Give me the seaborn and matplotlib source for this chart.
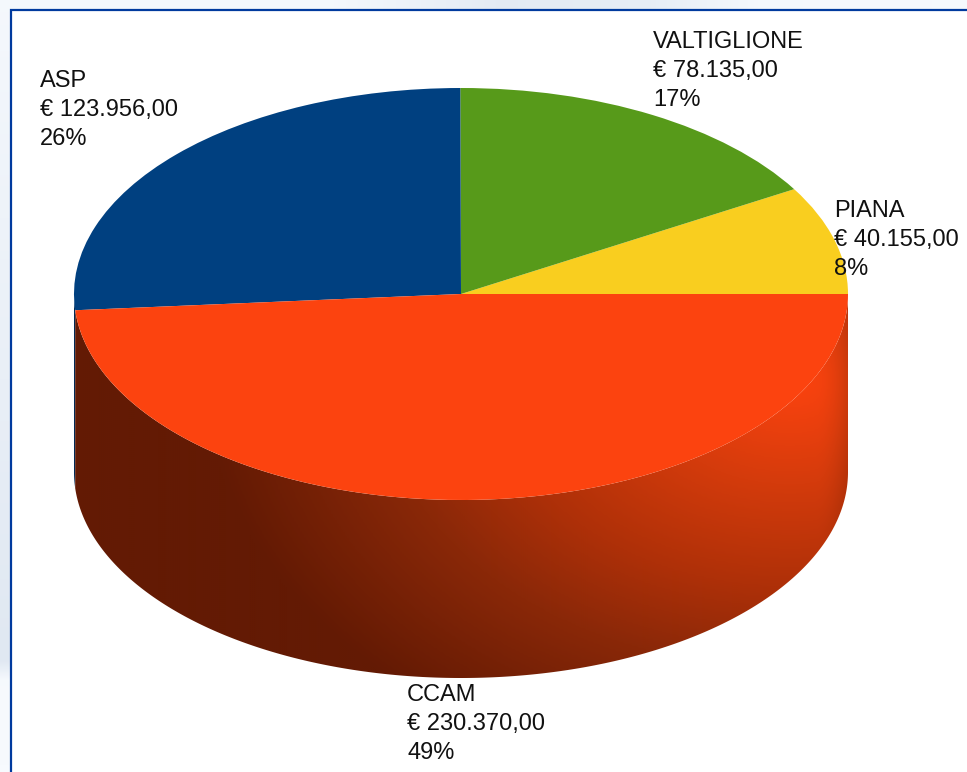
import numpy as np
import matplotlib
matplotlib.use("Agg")
import matplotlib.pyplot as plt
from matplotlib.colors import LinearSegmentedColormap, to_rgb
from matplotlib.patches import Polygon, Rectangle
import seaborn as sns

categories = ["PIANA", "VALTIGLIONE", "ASP", "CCAM"]
values = [40155.00, 78135.00, 123956.00, 230370.00]
value_labels = ["€ 40.155,00", "€ 78.135,00", "€ 123.956,00", "€ 230.370,00"]
percent_labels = ["8%", "17%", "26%", "49%"]
slice_colors = ["#f9ce1f", "#579a1a", "#004080", "#fc430f"]
label_px = [(834, 200), (653, 31), (40, 70), (407, 684)]

W, H = 967, 772
CX, CY, RX, RY, DEPTH = 461, 294, 387, 206, 178

sns.set_theme(style="white")
plt.rcParams["font.family"] = ["Liberation Sans", "DejaVu Sans"]

fig = plt.figure(figsize=(W / 100, H / 100), dpi=100, facecolor="#f6f9fd")
ax = fig.add_axes([0, 0, 1, 1])


def ux(px):
    return (px - CX) / RX


def uy(py):
    return (CY - py) / RY


wedges, _ = ax.pie(values, colors=sns.color_palette(slice_colors), startangle=0,
                   counterclock=True, radius=1, center=(0, 0),
                   wedgeprops={"linewidth": 0, "zorder": 5})
ax.set_aspect("auto")
ext = [ux(0), ux(W), uy(H), uy(0)]

# page background: pale streaks along the top and left edges
grid_x, grid_y = np.meshgrid(np.arange(W), np.arange(H))
left_tone = np.interp(grid_y, [0, 300, 660, 680, 772], [0.1, 0.5, 1.0, 0.05, 0.0])
top_tone = np.interp(grid_x, [0, 330, 500, 650, 760, 967], [0.1, 0.1, 0.85, 0.7, 0.1, 0.05])
tone = np.where(grid_y < 12, top_tone, left_tone)
page = LinearSegmentedColormap.from_list("page", ["#f7fafe", "#e0e8f2"])
ax.imshow(tone, cmap=page, vmin=0, vmax=1, extent=ext, aspect="auto",
          origin="upper", zorder=0)
ax.add_patch(Rectangle((ux(11), uy(H + 20)), ux(W + 20) - ux(11), uy(10) - uy(H + 20),
                       facecolor="white", edgecolor="#003a9e", linewidth=1.6, zorder=1))

# extruded wall below the front slices
fractions = np.array(values) / np.sum(values)
edges = np.concatenate([[0], np.cumsum(fractions)]) * 2 * np.pi
d = DEPTH / RY


def wall_polygon(a0, a1):
    t = np.linspace(a0, a1, 300)
    top = np.column_stack([np.cos(t), np.sin(t)])
    low = np.column_stack([np.cos(t[::-1]), np.sin(t[::-1]) - d])
    return np.vstack([top, low])


asp_wall = Polygon(wall_polygon(np.pi, edges[3]), closed=True,
                   facecolor="#002a55", linewidth=0, zorder=3)
ax.add_patch(asp_wall)

wall = Polygon(wall_polygon(edges[3], edges[4]), closed=True, facecolor="none",
               linewidth=0, zorder=3)
ax.add_patch(wall)
px, py = np.meshgrid(np.arange(0, W, 2.0), np.arange(0, H, 2.0))
glow = 1 - np.sqrt(((px - 790) / 585) ** 2 + ((py - 380) / 410) ** 2)
edge_dark = 0.2 * np.clip((px - 815) / 33, 0, 1) ** 2
t = np.clip(glow - edge_dark, 0, 1)
shade = LinearSegmentedColormap.from_list(
    "wall", [(0, "#631a04"), (0.3, "#8a2808"), (0.5, "#ae3008"),
             (0.75, "#d43b0c"), (1, "#fc430f")])
im = ax.imshow(t, cmap=shade, vmin=0, vmax=1, extent=ext, aspect="auto",
               origin="upper", zorder=4, interpolation="bilinear")
im.set_clip_path(wall)

ax.set_xlim(ext[0], ext[1])
ax.set_ylim(ext[2], ext[3])
ax.axis("off")

for name, val, pct, (x, y) in zip(categories, value_labels, percent_labels, label_px):
    fig.text(x / W, 1 - y / H, f"{name}\n{val}\n{pct}", fontsize=17, color="#111111",
             ha="left", va="top", linespacing=1.42, zorder=10)

fig.savefig("out.png", dpi=100, facecolor=fig.get_facecolor())
